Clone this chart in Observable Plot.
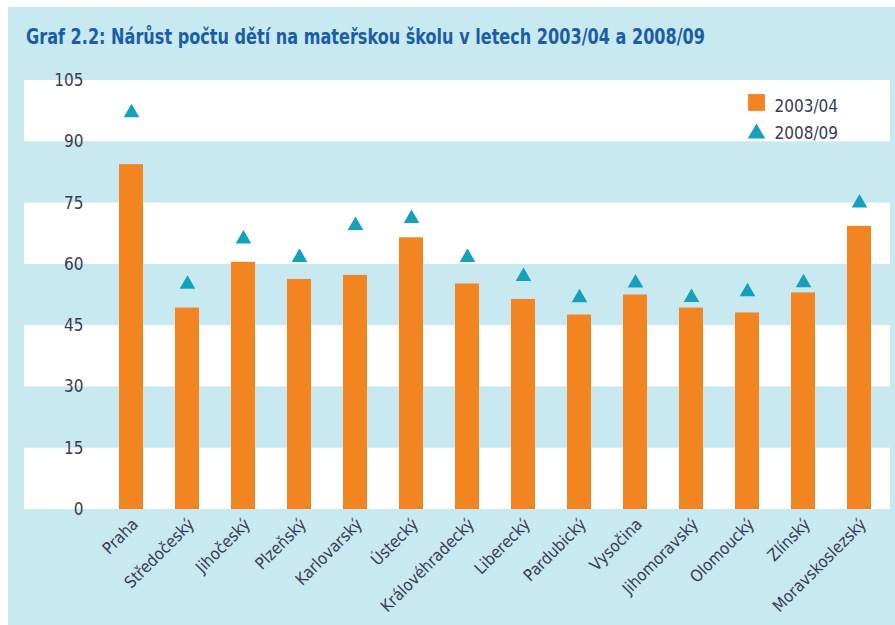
<!DOCTYPE html>
<html>
<head>
<meta charset="utf-8">
<script src="https://cdn.jsdelivr.net/npm/d3@7"></script>
<script src="https://cdn.jsdelivr.net/npm/@observablehq/plot@0.6"></script>
<style>
  body { margin: 0; background: #ffffff; }
  #page { position: relative; width: 895px; height: 625px; background: #ffffff; overflow: hidden; }
  #panel { position: absolute; left: 8px; top: 7px; width: 887px; height: 618px; background: #c7e9ef; }
  #title { position: absolute; left: 26px; top: 26px; white-space: nowrap; line-height: 22px;
    font-family: "Liberation Sans Narrow", "DejaVu Sans Condensed", "Open Sans", sans-serif;
    font-weight: bold; font-size: 22px; color: #1c5ea3; transform-origin: left top; }
  #chart { position: absolute; left: 0; top: 48px; }
</style>
</head>
<body>
<div id="page">
  <div id="panel"></div>
  <div id="title">Graf 2.2: Nárůst počtu dětí na mateřskou školu v letech 2003/04 a 2008/09</div>
  <div id="chart"></div>
</div>
<script>
const regions = ["Praha", "Středočeský", "Jihočeský", "Plzeňský", "Karlovarský", "Ústecký", "Královéhradecký", "Liberecký", "Pardubický", "Vysočina", "Jihomoravský", "Olomoucký", "Zlínský", "Moravskoslezský"];
const values2003 = [84.4, 49.3, 60.5, 56.3, 57.3, 66.5, 55.2, 51.4, 47.6, 52.5, 49.3, 48.1, 53.0, 69.3];
const values2008 = [97.6, 55.6, 66.7, 62.2, 70.0, 71.7, 62.2, 57.5, 52.3, 55.9, 52.4, 53.8, 56.0, 75.5];
const yTicks = [0, 15, 30, 45, 60, 75, 90, 105];
const whiteBands = [[0, 15], [30, 45], [60, 75], [90, 105]];
const seriesNames = ["2003/04", "2008/09"];

const orange = "#f28421";
const teal = "#14a1bb";
const ink = "#3b3b55";

// condense the title to the reference footprint
const titleEl = document.getElementById("title");
const tw = titleEl.getBoundingClientRect().width;
titleEl.style.transform = `scaleX(${679 / tw})`;

const data = regions.map((r, i) => ({region: r, v03: values2003[i], v08: values2008[i]}));

const chart = Plot.plot({
  width: 895,
  height: 577,
  marginTop: 32,
  marginBottom: 116,
  marginLeft: 24,
  marginRight: 5,
  style: {background: "transparent", fontFamily: "'Liberation Sans Narrow', 'DejaVu Sans Condensed', 'Open Sans', sans-serif", fontSize: "15px", color: ink},
  x: {domain: regions, range: [117, 873], paddingInner: 0.574, paddingOuter: 0, label: null},
  y: {domain: [0, 105], label: null},
  marks: [
    Plot.rectY(whiteBands, {y1: d => d[0], y2: d => d[1], fill: "white"}),
    Plot.barY(data, {x: "region", y: "v03", fill: orange}),
    Plot.dot(data, {x: "region", y: "v08", symbol: "triangle", r: 5.8, fill: teal, dy: 2}),
    Plot.axisY(yTicks, {tickSize: 0, tickPadding: 0, dx: 59, fontSize: 17, fill: ink}),
    Plot.axisX({tickSize: 0, tickRotate: -45, tickPadding: 12, dx: 4, fontSize: 16.5, fill: ink}),
    // legend
    Plot.dot([seriesNames[0]], {frameAnchor: "top-right", dx: -134, dy: 22, symbol: "square", r: 9.5, fill: orange}),
    Plot.dot([seriesNames[1]], {frameAnchor: "top-right", dx: -134, dy: 53, symbol: "triangle", r: 6.5, fill: teal}),
    Plot.text([seriesNames[0]], {text: d => d, frameAnchor: "top-right", dx: -116, dy: 19, textAnchor: "start", fontSize: 17, fill: ink}),
    Plot.text([seriesNames[1]], {text: d => d, frameAnchor: "top-right", dx: -116, dy: 46, textAnchor: "start", fontSize: 17, fill: ink})
  ]
});
document.getElementById("chart").appendChild(chart);
</script>
</body>
</html>
